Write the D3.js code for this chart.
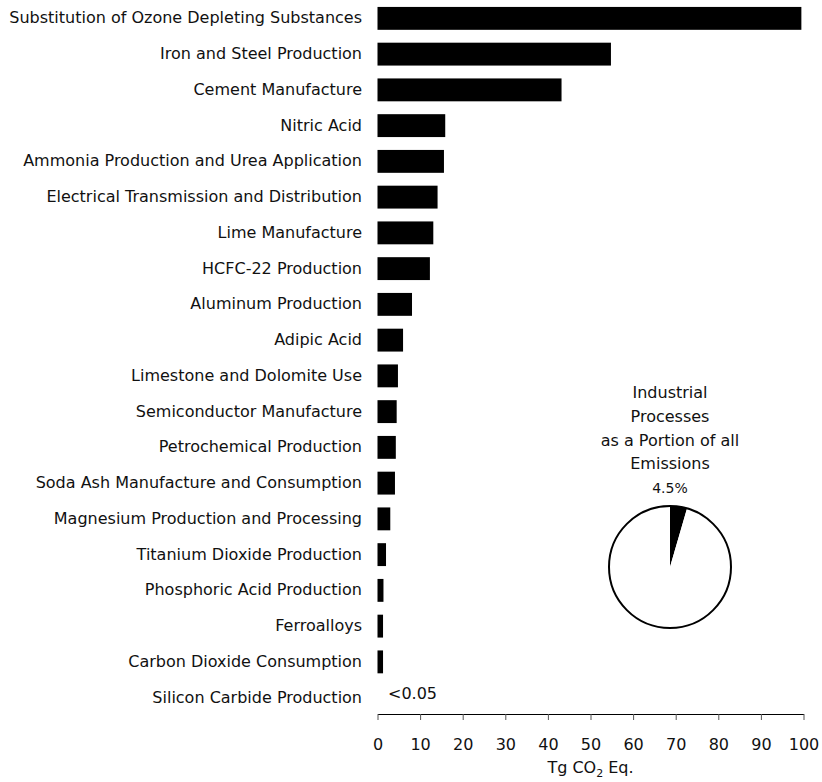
<!DOCTYPE html>
<html><head><meta charset="utf-8">
<script src="https://cdn.jsdelivr.net/npm/d3@7"></script>
<style>body{margin:0;background:#fff}svg{display:block}</style>
</head><body>
<script>
const categories = ["Substitution of Ozone Depleting Substances","Iron and Steel Production","Cement Manufacture","Nitric Acid","Ammonia Production and Urea Application","Electrical Transmission and Distribution","Lime Manufacture","HCFC-22 Production","Aluminum Production","Adipic Acid","Limestone and Dolomite Use","Semiconductor Manufacture","Petrochemical Production","Soda Ash Manufacture and Consumption","Magnesium Production and Processing","Titanium Dioxide Production","Phosphoric Acid Production","Ferroalloys","Carbon Dioxide Consumption","Silicon Carbide Production"];
const values = [99.5,54.8,43.2,15.9,15.6,14.1,13.1,12.3,8.1,6.0,4.8,4.5,4.3,4.1,3.0,2.0,1.4,1.3,1.3,0.04];
const xTicks = [0,10,20,30,40,50,60,70,80,90,100];
const pieShare = [4.5, 95.5];
const pieTitle = ["Industrial","Processes","as a Portion of all","Emissions"];
const pieLabel = "4.5%";
const smallNote = "<0.05";

const W=822,H=782;
const font="DejaVu Sans";
const col="#111";
const svg=d3.select("body").append("svg").attr("width",W).attr("height",H);
const x=d3.scaleLinear().domain([0,100]).range([377.5,803.5]);
const y=d3.scaleBand().domain(categories).range([0,715]).paddingInner(0.36).paddingOuter(0.18);

svg.append("g").selectAll("rect").data(categories).join("rect")
  .attr("x",x(0)).attr("y",d=>y(d)+0.5).attr("height",y.bandwidth())
  .attr("width",(d,i)=>values[i]<0.05?0:x(values[i])-x(0)).attr("fill","#000");

svg.append("g").selectAll("text").data(categories).join("text")
  .attr("x",362).attr("y",d=>y(d)+y.bandwidth()/2).attr("dy","0.35em")
  .attr("text-anchor","end").attr("font-family",font).attr("font-size",16).attr("fill",col)
  .text(d=>d);

svg.append("text").attr("x",388).attr("y",y(categories[19])+y.bandwidth()/2-4).attr("dy","0.35em")
  .attr("font-family",font).attr("font-size",16).attr("fill",col).text(smallNote);

const ax=svg.append("g").attr("transform","translate(0,714)")
  .call(d3.axisBottom(x).tickValues(xTicks).tickSize(6).tickSizeOuter(0).tickPadding(19));
ax.select(".domain").attr("stroke","#000");
ax.selectAll(".tick line").attr("stroke","#555");
ax.selectAll(".tick text").attr("font-family",font).attr("font-size",16).attr("fill",col);

const t=svg.append("text").attr("x",x(50)).attr("y",773).attr("text-anchor","middle")
  .attr("font-family",font).attr("font-size",16).attr("fill",col);
t.append("tspan").text("Tg CO");
t.append("tspan").attr("font-size",11).attr("dy",4).text("2");
t.append("tspan").attr("dy",-4).text(" Eq.");

const cx=670,cy=567,r=61;
const pie=d3.pie().sort(null)(pieShare);
const arc=d3.arc().innerRadius(0).outerRadius(r);
const pg=svg.append("g").attr("transform",`translate(${cx},${cy})`);
pg.selectAll("path").data(pie).join("path").attr("d",arc)
  .attr("fill",(d,i)=>i===0?"#000":"#fff");
pg.append("circle").attr("r",r).attr("fill","none").attr("stroke","#000").attr("stroke-width",2);

pieTitle.forEach((s,i)=>{
  svg.append("text").attr("x",cx).attr("y",398+i*23.8).attr("text-anchor","middle")
    .attr("font-family",font).attr("font-size",16).attr("fill",col).text(s);
});
svg.append("text").attr("x",cx).attr("y",493).attr("text-anchor","middle")
  .attr("font-family",font).attr("font-size",14).attr("fill",col).text(pieLabel);
</script>
</body></html>
